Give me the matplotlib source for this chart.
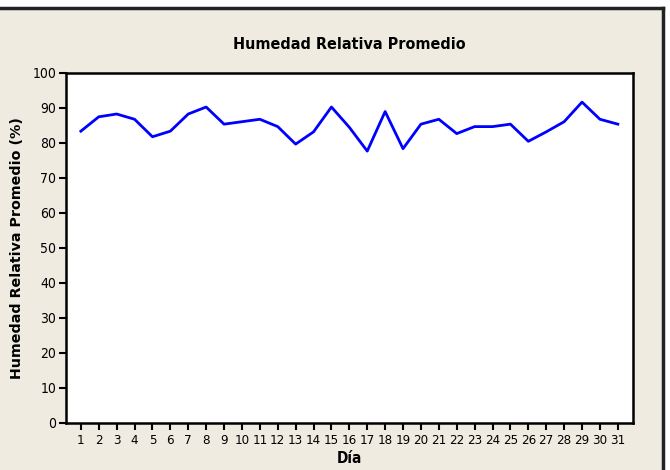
import matplotlib.pyplot as plt
from matplotlib.lines import Line2D

# Daily average relative humidity (%)
days = list(range(1, 32))
humidity = [83.3, 87.4, 88.2, 86.7, 81.7, 83.3, 88.2, 90.2, 85.3, 86.0,
            86.7, 84.6, 79.6, 83.1, 90.2, 84.4, 77.6, 88.9, 78.3, 85.3,
            86.7, 82.6, 84.6, 84.6, 85.3, 80.4, 83.1, 86.0, 91.6, 86.7,
            85.3]
y_ticks = list(range(0, 101, 10))

bg = '#EFEBE1'
narrow = ['DejaVu Sans']

fig = plt.figure(figsize=(6.7, 4.7), dpi=100, facecolor=bg)
ax = fig.add_axes([0.0985, 0.1006, 0.8458, 0.7447])
ax.set_facecolor('white')

ax.plot(days, humidity, color='#0000FF', linewidth=2)

ax.set_xlim(0.17, 31.83)
ax.set_ylim(0, 100)
ax.set_xticks(days)
ax.set_xticklabels([str(d) for d in days], family=narrow, fontstretch='condensed',
                   fontsize=9.5)
ax.set_yticks(y_ticks)
ax.set_yticklabels([str(v) for v in y_ticks], family=narrow, fontstretch='condensed',
                   fontsize=10)
ax.tick_params(direction='out', length=5, width=1.5, color='black', pad=2)
ax.tick_params(axis='x', pad=3)

for s in ax.spines.values():
    s.set_linewidth(1.8)

ax.set_title('Humedad Relativa Promedio', family=narrow, fontstretch='condensed',
             fontweight='bold', fontsize=11.5, pad=17)
ax.set_xlabel('Día', family=narrow, fontstretch='condensed', fontweight='bold',
              fontsize=11, labelpad=3)
ax.set_ylabel('Humedad Relativa Promedio (%)', fontweight='bold', fontsize=10.3,
              labelpad=6)

# outer frame (top and right edges)
fig.add_artist(Line2D([0, 663 / 670], [1 - 7.5 / 470, 1 - 7.5 / 470],
                      transform=fig.transFigure, color='#222222', linewidth=2.5))
fig.add_artist(Line2D([663 / 670, 663 / 670], [0, 1 - 7.5 / 470],
                      transform=fig.transFigure, color='#222222', linewidth=2.5))
fig.patches.append(plt.Rectangle((0, 1 - 7.5 / 470), 1, 7.5 / 470,
                                 transform=fig.transFigure, color='white', zorder=-1))
fig.patches.append(plt.Rectangle((663 / 670, 0), 7 / 670, 1,
                                 transform=fig.transFigure, color='white', zorder=-1))

fig.savefig('out.png', dpi=100, facecolor=bg)
